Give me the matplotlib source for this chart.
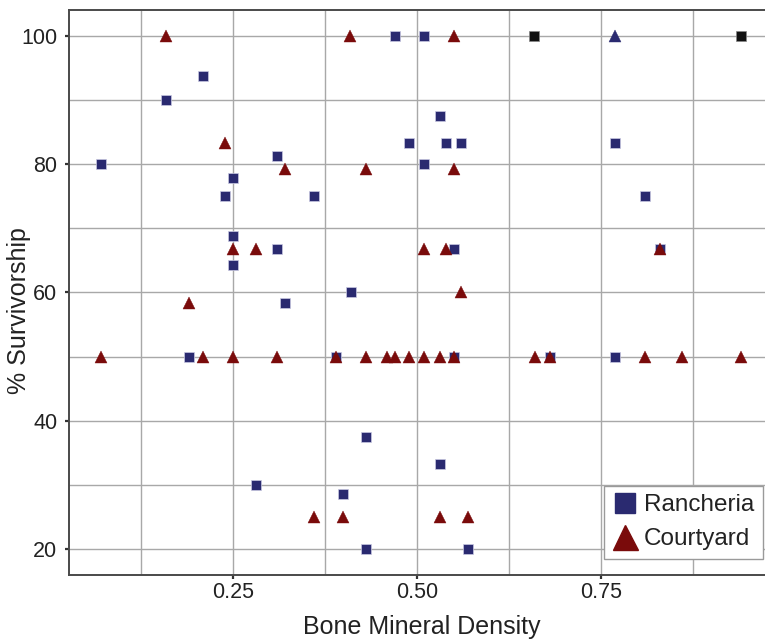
"""Survivorship vs bone mineral density scatter, Rancheria vs Courtyard."""

import matplotlib

matplotlib.use("Agg")
import matplotlib.pyplot as plt  # noqa: E402
from matplotlib.lines import Line2D  # noqa: E402
from matplotlib.ticker import MultipleLocator  # noqa: E402

plt.rcParams["font.family"] = ["Liberation Sans", "DejaVu Sans"]

# Rancheria (navy squares)
ran_bmd = [0.071, 0.160, 0.210, 0.240, 0.250, 0.250, 0.250, 0.281, 0.310,
           0.310, 0.321, 0.360, 0.191, 0.390, 0.400, 0.411, 0.431, 0.431,
           0.470, 0.490, 0.510, 0.510, 0.531, 0.540, 0.560, 0.551, 0.550,
           0.531, 0.570, 0.681, 0.770, 0.770, 0.810, 0.831]
ran_surv = [80, 90, 93.75, 75, 77.8, 68.75, 64.3, 30, 81.25,
            66.7, 58.3, 75, 50, 50, 28.6, 60, 37.5, 20,
            100, 83.3, 100, 80, 87.5, 83.3, 83.3, 66.7, 50,
            33.3, 20, 50, 83.3, 50, 75, 66.7]

# Courtyard (dark red triangles)
crt_bmd = [0.160, 0.410, 0.551, 0.240, 0.321, 0.431, 0.551, 0.250, 0.281,
           0.510, 0.540, 0.831, 0.560, 0.191, 0.071, 0.210, 0.250, 0.310,
           0.390, 0.431, 0.459, 0.470, 0.490, 0.510, 0.531, 0.551, 0.661,
           0.681, 0.810, 0.861, 0.940, 0.360, 0.400, 0.531, 0.570]
crt_surv = [100, 100, 100, 83.3, 79.2, 79.2, 79.2, 66.7, 66.7,
            66.7, 66.7, 66.7, 60, 58.3, 50, 50, 50, 50,
            50, 50, 50, 50, 50, 50, 50, 50, 50,
            50, 50, 50, 50, 25, 25, 25, 25]

# unlabelled extras drawn in the original
blk_bmd = [0.660, 0.940]
blk_surv = [100, 100]
navtri_bmd = [0.770]
navtri_surv = [100]

NAVY = "#2a2a70"
RED = "#7a0b0b"

fig = plt.figure(figsize=(7.65, 6.39), dpi=100)
ax = fig.add_axes((69 / 765, 1 - 574.7 / 639, 701 / 765, 564.7 / 639))

ax.plot(ran_bmd, ran_surv, ls="none", marker="s", ms=6.6, color=NAVY,
        mec="#c9c9e2", mew=0.5, zorder=3)
ax.plot(crt_bmd, crt_surv, ls="none", marker="^", ms=8.2, color=RED,
        mec=RED, mew=0.3, zorder=4)
ax.plot(blk_bmd, blk_surv, ls="none", marker="s", ms=6.6, color="#111111",
        mec="#888888", mew=0.5, zorder=3)
ax.plot(navtri_bmd, navtri_surv, ls="none", marker="^", ms=8.2, color=NAVY,
        mec=NAVY, mew=0.3, zorder=4)

ax.set_xlim(0.0276, 0.98)
ax.set_ylim(16, 104)
ax.xaxis.set_minor_locator(MultipleLocator(0.125))
ax.yaxis.set_major_locator(MultipleLocator(20))
ax.yaxis.set_minor_locator(MultipleLocator(10))
ax.set_xticks([0.25, 0.5, 0.75])
ax.set_xticklabels(["0.25", "0.50", "0.75"])
ax.grid(which="both", color="#a8a8a8", linewidth=1.0, zorder=0)
ax.set_axisbelow(True)
ax.tick_params(which="major", length=3, width=1.6, color="#333333",
               labelcolor="#222222", labelsize=15.5)
ax.tick_params(axis="x", pad=2)
ax.tick_params(axis="y", pad=5.5)
ax.tick_params(which="minor", length=0)
for side in ("left", "bottom", "top"):
    ax.spines[side].set_color("#4a4a4a")
    ax.spines[side].set_linewidth(1.4)
ax.spines["right"].set_visible(False)

fig.text(422 / 765, 1 - 634 / 639, "Bone Mineral Density", ha="center",
         va="baseline", fontsize=18, color="#222222")
fig.text(19 / 765, 1 - 310.5 / 639, "% Survivorship", ha="center", va="center",
         rotation=90, fontsize=18, color="#222222")

handles = [
    Line2D([], [], ls="none", marker="s", ms=14.5, color=NAVY, mec=NAVY),
    Line2D([], [], ls="none", marker="^", ms=18, color=RED, mec=RED),
]
leg = ax.legend(handles, ["Rancheria", "Courtyard"], loc="lower right",
                bbox_to_anchor=(0.990, 0.028), borderaxespad=0, fontsize=17.5,
                fancybox=False, framealpha=1, edgecolor="#9a9a9a",
                handlelength=1.0, handletextpad=0.3, borderpad=0.35,
                labelspacing=0.5)
leg.get_frame().set_linewidth(1.0)
for t in leg.get_texts():
    t.set_color("#222222")

fig.savefig("out.png", dpi=100)
